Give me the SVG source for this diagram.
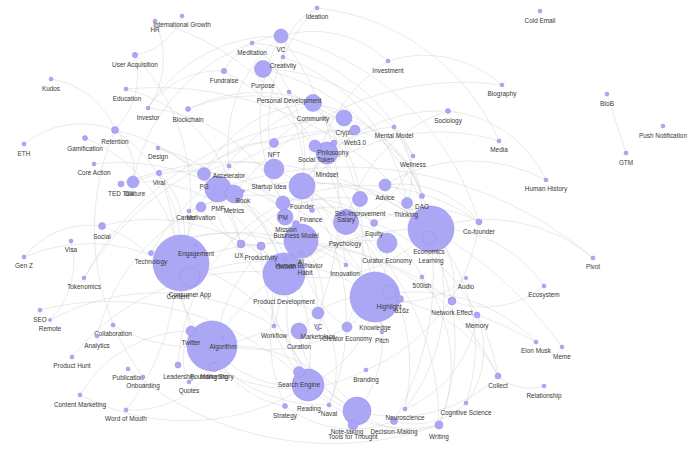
<svg xmlns="http://www.w3.org/2000/svg" width="700" height="456" viewBox="0 0 700 456">
<style>
.e{fill:none;stroke:#cfcfcf;stroke-width:0.6;stroke-opacity:0.75}
.n circle{fill:#aba7f5;stroke:#928de9;stroke-width:0.5}
text{font-family:"Liberation Sans",Arial,Helvetica,sans-serif;font-size:6.4px;fill:#383838;text-anchor:middle}
</style>
<rect width="700" height="456" fill="#ffffff"/>
<g id="connectors" class="e">
<path d="M51 79 A82 82 0 0 1 115 130"/>
<path d="M24 144 A92 92 0 0 1 115 130"/>
<path d="M85 138 A158 158 0 0 1 181 263"/>
<path d="M155 21 A87 87 0 0 1 148 108"/>
<path d="M182 16 A61 61 0 0 1 135 55"/>
<path d="M135 55 A78 78 0 0 1 115 130"/>
<path d="M135 55 A213 213 0 0 1 181 263"/>
<path d="M126 89 A336 336 0 0 1 431 229"/>
<path d="M148 108 A151 151 0 0 1 281 36"/>
<path d="M148 108 A85 85 0 0 1 224 71"/>
<path d="M115 130 A148 148 0 0 1 181 263"/>
<path d="M115 130 A55 55 0 0 1 133 182"/>
<path d="M158 148 A127 127 0 0 1 241 244"/>
<path d="M158 148 A178 178 0 0 1 284 274"/>
<path d="M94 164 A220 220 0 0 1 305 265"/>
<path d="M159 173 A92 92 0 0 1 181 263"/>
<path d="M159 173 A239 239 0 0 1 126 410"/>
<path d="M133 182 A151 151 0 0 1 283 203"/>
<path d="M121 184 A313 313 0 0 1 431 229"/>
<path d="M102 226 A138 138 0 0 1 191 331"/>
<path d="M71 241 A82 82 0 0 1 50 320"/>
<path d="M24 257 A84 84 0 0 1 102 226"/>
<path d="M24 257 A167 167 0 0 1 190 277"/>
<path d="M151 253 A150 150 0 0 1 301 253"/>
<path d="M84 278 A305 305 0 0 1 344 118"/>
<path d="M84 278 A309 309 0 0 1 355 130"/>
<path d="M40 310 A278 278 0 0 1 308 385"/>
<path d="M50 320 A224 224 0 0 1 274 326"/>
<path d="M113 325 A161 161 0 0 0 274 326"/>
<path d="M97 336 A197 197 0 0 1 234 194"/>
<path d="M72 357 A228 228 0 0 1 284 274"/>
<path d="M128 369 A316 316 0 0 0 439 425"/>
<path d="M143 377 A249 249 0 0 1 115 130"/>
<path d="M80 395 A228 228 0 0 0 308 385"/>
<path d="M80 395 A128 128 0 0 1 191 331"/>
<path d="M126 410 A98 98 0 0 0 214 367"/>
<path d="M178 365 A193 193 0 0 1 283 203"/>
<path d="M189 382 A51 51 0 0 1 191 331"/>
<path d="M212 346 A89 89 0 0 1 181 263"/>
<path d="M212 346 A104 104 0 0 0 308 385"/>
<path d="M214 367 A165 165 0 0 1 296 224"/>
<path d="M317 8 A167 167 0 0 0 274 169"/>
<path d="M317 8 A60 60 0 0 0 283 57"/>
<path d="M281 36 A67 67 0 0 0 224 71"/>
<path d="M281 36 A280 280 0 0 1 318 313"/>
<path d="M281 36 A140 140 0 0 0 229 166"/>
<path d="M281 36 A167 167 0 0 0 283 203"/>
<path d="M252 43 A197 197 0 0 1 413 156"/>
<path d="M252 43 A151 151 0 0 1 302 186"/>
<path d="M283 57 A191 191 0 0 1 407 203"/>
<path d="M263 69 A158 158 0 0 1 296 224"/>
<path d="M289 92 A129 129 0 0 1 360 199"/>
<path d="M313 103 A143 143 0 0 1 422 196"/>
<path d="M313 103 A226 226 0 0 1 347 327"/>
<path d="M313 103 A214 214 0 0 0 181 263"/>
<path d="M188 109 A156 156 0 0 1 344 118"/>
<path d="M188 109 A168 168 0 0 1 355 130"/>
<path d="M344 118 A74 74 0 0 0 274 143"/>
<path d="M344 118 A110 110 0 0 1 422 196"/>
<path d="M355 130 A92 92 0 0 1 422 196"/>
<path d="M388 61 A110 110 0 0 0 281 36"/>
<path d="M388 61 A167 167 0 0 0 312 210"/>
<path d="M502 85 A289 289 0 0 0 234 194"/>
<path d="M448 111 A151 151 0 0 0 346 222"/>
<path d="M448 111 A120 120 0 0 1 546 180"/>
<path d="M394 127 A77 77 0 0 1 407 203"/>
<path d="M394 127 A294 294 0 0 1 394 421"/>
<path d="M499 141 A202 202 0 0 0 302 186"/>
<path d="M607 94 L626 153"/>
<path d="M413 156 A94 94 0 0 1 346 222"/>
<path d="M546 180 A161 161 0 0 0 385 185"/>
<path d="M229 166 A172 172 0 0 1 318 313"/>
<path d="M204 174 A194 194 0 0 0 318 313"/>
<path d="M204 174 A70 70 0 0 1 274 169"/>
<path d="M218 189 A117 117 0 0 1 284 274"/>
<path d="M218 189 A381 381 0 0 1 593 258"/>
<path d="M234 194 A205 205 0 0 1 308 385"/>
<path d="M234 194 A200 200 0 0 1 431 229"/>
<path d="M201 207 A72 72 0 0 0 261 246"/>
<path d="M189 211 A157 157 0 0 1 346 222"/>
<path d="M274 169 A120 120 0 0 1 346 265"/>
<path d="M302 186 A136 136 0 0 1 431 229"/>
<path d="M283 203 A197 197 0 0 1 479 222"/>
<path d="M283 203 A93 93 0 0 1 374 223"/>
<path d="M285 217 A57 57 0 0 1 284 274"/>
<path d="M312 210 A63 63 0 0 1 374 223"/>
<path d="M301 241 A90 90 0 0 1 318 329"/>
<path d="M301 241 A98 98 0 0 0 347 327"/>
<path d="M301 241 A93 93 0 0 1 375 297"/>
<path d="M346 222 A85 85 0 0 1 431 229"/>
<path d="M360 199 A86 86 0 0 1 305 265"/>
<path d="M385 185 A101 101 0 0 1 479 222"/>
<path d="M407 203 A224 224 0 0 1 439 425"/>
<path d="M374 223 A105 105 0 0 1 479 222"/>
<path d="M387 243 A93 93 0 0 1 347 327"/>
<path d="M431 229 A165 165 0 0 1 593 258"/>
<path d="M431 229 A400 400 0 0 1 562 347"/>
<path d="M431 229 A127 127 0 0 1 544 286"/>
<path d="M431 229 A75 75 0 0 1 452 301"/>
<path d="M431 229 A182 182 0 0 1 405 409"/>
<path d="M241 244 A52 52 0 0 1 284 274"/>
<path d="M261 246 A81 81 0 0 1 274 326"/>
<path d="M261 246 A191 191 0 0 0 357 411"/>
<path d="M346 265 A195 195 0 0 0 151 253"/>
<path d="M422 277 A149 149 0 0 1 439 425"/>
<path d="M466 278 A93 93 0 0 1 375 297"/>
<path d="M375 297 A115 115 0 0 1 357 411"/>
<path d="M375 297 A111 111 0 0 1 308 385"/>
<path d="M375 297 A146 146 0 0 1 498 376"/>
<path d="M375 297 A167 167 0 0 1 536 342"/>
<path d="M477 315 A118 118 0 0 1 405 409"/>
<path d="M477 315 A89 89 0 0 1 466 403"/>
<path d="M544 286 A93 93 0 0 1 452 301"/>
<path d="M318 313 A93 93 0 0 1 329 405"/>
<path d="M299 331 A100 100 0 0 0 357 411"/>
<path d="M299 331 A83 83 0 0 1 375 297"/>
<path d="M347 327 A156 156 0 0 1 191 331"/>
<path d="M274 326 A120 120 0 0 0 357 411"/>
<path d="M382 332 A163 163 0 0 0 283 203"/>
<path d="M366 370 A152 152 0 0 1 214 367"/>
<path d="M498 376 A145 145 0 0 1 357 411"/>
<path d="M466 403 A74 74 0 0 1 394 421"/>
<path d="M405 409 A196 196 0 0 0 346 222"/>
<path d="M394 421 A110 110 0 0 1 285 406"/>
<path d="M357 411 A83 83 0 0 0 439 425"/>
<path d="M439 425 A137 137 0 0 1 308 385"/>
<path d="M308 385 A132 132 0 0 1 301 253"/>
<path d="M285 406 A166 166 0 0 1 301 241"/>
<path d="M329 405 A155 155 0 0 1 191 331"/>
<path d="M544 386 A47 47 0 0 1 498 376"/>
<path d="M536 342 A400 400 0 0 0 477 315"/>
<path d="M224 71 A305 305 0 0 1 382 332"/>
<path d="M263 69 A231 231 0 0 1 431 229"/>
<path d="M313 103 A130 130 0 0 0 204 174"/>
<path d="M281 36 A272 272 0 0 1 479 222"/>
<path d="M252 43 A183 183 0 0 0 133 182"/>
<path d="M317 8 A225 225 0 0 1 499 141"/>
<path d="M388 61 A116 116 0 0 1 502 85"/>
<path d="M155 21 A277 277 0 0 1 346 222"/>
<path d="M448 111 A164 164 0 0 0 302 186"/>
<path d="M394 127 A110 110 0 0 0 302 186"/>
<path d="M413 156 A173 173 0 0 0 263 69"/>
<path d="M355 130 A238 238 0 0 0 151 253"/>
<path d="M302 186 A133 133 0 0 1 375 297"/>
<path d="M181 263 A274 274 0 0 1 452 301"/>
<path d="M190 277 A186 186 0 0 1 375 297"/>
<path d="M212 346 A248 248 0 0 1 431 229"/>
<path d="M284 274 A154 154 0 0 0 431 229"/>
<path d="M284 274 A108 108 0 0 1 387 243"/>
<path d="M301 241 A239 239 0 0 1 498 376"/>
<path d="M308 385 A176 176 0 0 0 181 263"/>
<path d="M357 411 A159 159 0 0 0 212 346"/>
<path d="M241 244 A127 127 0 0 1 360 199"/>
<path d="M296 224 A85 85 0 0 0 218 189"/>
<path d="M274 143 A76 76 0 0 0 204 174"/>
<path d="M133 182 A143 143 0 0 1 261 246"/>
<path d="M102 226 A188 188 0 0 1 284 274"/>
<path d="M126 89 A151 151 0 0 1 234 194"/>
<path d="M115 130 A170 170 0 0 1 241 244"/>
<path d="M148 108 A165 165 0 0 1 283 203"/>
<path d="M274 326 A89 89 0 0 1 301 241"/>
<path d="M329 405 A221 221 0 0 0 302 186"/>
<path d="M285 406 A94 94 0 0 1 212 346"/>
<path d="M366 370 A186 186 0 0 0 479 222"/>
<path d="M422 277 A94 94 0 0 0 346 222"/>
<path d="M466 403 A177 177 0 0 0 431 229"/>
<path d="M498 376 A197 197 0 0 0 374 223"/>
<path d="M439 425 A275 275 0 0 0 302 186"/>
</g>
<g id="n-engagement-big" class="n"><circle cx="181" cy="263" r="28"/><text x="178" y="299">Content</text></g>
<g id="n-knowledge" class="n"><circle cx="375" cy="297" r="25"/><text x="375" y="330">Knowledge</text></g>
<g id="n-marketing" class="n"><circle cx="212" cy="346" r="25"/><text x="214" y="379">Marketing</text></g>
<g id="n-learning" class="n"><circle cx="431" cy="229" r="23"/><text x="431" y="263">Learning</text></g>
<g id="n-product-development" class="n"><circle cx="284" cy="274" r="21"/><text x="284" y="304">Product Development</text></g>
<g id="n-human-behavior" class="n"><circle cx="301" cy="241" r="17"/><text x="299" y="268">Human Behavior</text></g>
<g id="n-reading" class="n"><circle cx="308" cy="385" r="16"/><text x="309" y="411">Reading</text></g>
<g id="n-note-taking" class="n"><circle cx="357" cy="411" r="14"/><text x="347" y="434">Note-taking</text></g>
<g id="n-founder" class="n"><circle cx="302" cy="186" r="13"/><text x="302" y="209">Founder</text></g>
<g id="n-pmf" class="n"><circle cx="218" cy="189" r="13"/><text x="218" y="211">PMF</text></g>
<g id="n-psychology" class="n"><circle cx="346" cy="222" r="12.5"/><text x="345" y="246">Psychology</text></g>
<g id="n-mindset" class="n"><circle cx="327" cy="153" r="11"/><text x="327" y="177">Mindset</text></g>
<g id="n-curator-economy" class="n"><circle cx="387" cy="243" r="10"/><text x="387" y="263">Curator Economy</text></g>
<g id="n-consumer-app" class="n"><circle cx="190" cy="277" r="10"/><text x="190" y="297">Consumer App</text></g>
<g id="n-startup-idea" class="n"><circle cx="274" cy="169" r="10"/><text x="269" y="189">Startup Idea</text></g>
<g id="n-metrics" class="n"><circle cx="234" cy="194" r="9"/><text x="234" y="213">Metrics</text></g>
<g id="n-purpose" class="n"><circle cx="263" cy="69" r="8.5"/><text x="263" y="88">Purpose</text></g>
<g id="n-community" class="n"><circle cx="313" cy="103" r="8.5"/><text x="313" y="121">Community</text></g>
<g id="n-crypto" class="n"><circle cx="344" cy="118" r="8"/><text x="345" y="135">Crypto</text></g>
<g id="n-mission" class="n"><circle cx="285" cy="217" r="8"/><text x="286" y="232">Mission</text></g>
<g id="n-curation" class="n"><circle cx="299" cy="331" r="8"/><text x="299" y="349">Curation</text></g>
<g id="n-self-improvement" class="n"><circle cx="360" cy="199" r="7.5"/><text x="360" y="216">Self-Improvement</text></g>
<g id="n-vc" class="n"><circle cx="281" cy="36" r="7"/><text x="281" y="52">VC</text></g>
<g id="n-pm" class="n"><circle cx="283" cy="203" r="7"/><text x="283" y="220">PM</text></g>
<g id="n-highlight" class="n"><circle cx="389" cy="292" r="7"/><text x="389" y="309">Highlight</text></g>
<g id="n-economics" class="n"><circle cx="429" cy="238" r="7"/><text x="429" y="254">Economics</text></g>
<g id="n-pg" class="n"><circle cx="204" cy="174" r="6.5"/><text x="204" y="189">PG</text></g>
<g id="n-advice" class="n"><circle cx="385" cy="185" r="6"/><text x="385" y="200">Advice</text></g>
<g id="n-yc" class="n"><circle cx="318" cy="313" r="6"/><text x="318" y="329">YC</text></g>
<g id="n-social-token" class="n"><circle cx="315" cy="146" r="6"/><text x="316" y="162">Social Token</text></g>
<g id="n-culture" class="n"><circle cx="133" cy="182" r="6"/><text x="135" y="196">Culture</text></g>
<g id="n-thinking" class="n"><circle cx="407" cy="203" r="5.5"/><text x="406" y="217">Thinking</text></g>
<g id="n-search-engine" class="n"><circle cx="299" cy="372" r="5.5"/><text x="299" y="387">Search Engine</text></g>
<g id="n-web3" class="n"><circle cx="355" cy="130" r="5"/><text x="355" y="145">Web3.0</text></g>
<g id="n-twitter" class="n"><circle cx="191" cy="331" r="5"/><text x="191" y="345">Twitter</text></g>
<g id="n-motivation" class="n"><circle cx="201" cy="207" r="5"/><text x="201" y="220">Motivation</text></g>
<g id="n-creator-economy" class="n"><circle cx="347" cy="327" r="5"/><text x="347" y="341">Creator Economy</text></g>
<g id="n-tools-for-thought" class="n"><circle cx="353" cy="425" r="5"/><text x="353" y="439">Tools for Thought</text></g>
<g id="n-nft" class="n"><circle cx="274" cy="143" r="4.5"/><text x="274" y="157">NFT</text></g>
<g id="n-founding-story" class="n"><circle cx="214" cy="367" r="4.5"/><text x="212" y="379">Founding Story</text></g>
<g id="n-ux" class="n"><circle cx="241" cy="244" r="4"/><text x="239" y="258">UX</text></g>
<g id="n-productivity" class="n"><circle cx="261" cy="246" r="4"/><text x="261" y="260">Productivity</text></g>
<g id="n-network-effect" class="n"><circle cx="452" cy="301" r="4"/><text x="452" y="315">Network Effect</text></g>
<g id="n-writing" class="n"><circle cx="439" cy="425" r="4"/><text x="439" y="439">Writing</text></g>
<g id="n-social" class="n"><circle cx="102" cy="226" r="3.5"/><text x="102" y="239">Social</text></g>
<g id="n-retention" class="n"><circle cx="115" cy="130" r="3.5"/><text x="115" y="144">Retention</text></g>
<g id="n-business-model" class="n"><circle cx="296" cy="224" r="3.5"/><text x="296" y="238">Business Model</text></g>
<g id="n-equity" class="n"><circle cx="374" cy="223" r="3.5"/><text x="374" y="236">Equity</text></g>
<g id="n-a16z" class="n"><circle cx="400" cy="299" r="3.5"/><text x="402" y="313">a16z</text></g>
<g id="n-decision-making" class="n"><circle cx="394" cy="421" r="3.5"/><text x="394" y="434">Decision-Making</text></g>
<g id="n-philosophy" class="n"><circle cx="334" cy="143" r="3"/><text x="333" y="155">Philosophy</text></g>
<g id="n-ted-talk" class="n"><circle cx="121" cy="184" r="3"/><text x="121" y="196">TED Talk</text></g>
<g id="n-leadership" class="n"><circle cx="178" cy="365" r="3"/><text x="179" y="379">Leadership</text></g>
<g id="n-co-founder" class="n"><circle cx="479" cy="222" r="3"/><text x="479" y="234">Co-founder</text></g>
<g id="n-memory" class="n"><circle cx="477" cy="315" r="3"/><text x="477" y="328">Memory</text></g>
<g id="n-collect" class="n"><circle cx="498" cy="376" r="3"/><text x="498" y="388">Collect</text></g>
<g id="n-user-acquisition" class="n"><circle cx="135" cy="55" r="2.7"/><text x="135" y="67">User Acquisition</text></g>
<g id="n-fundraise" class="n"><circle cx="224" cy="71" r="2.7"/><text x="224" y="83">Fundraise</text></g>
<g id="n-viral" class="n"><circle cx="159" cy="173" r="2.7"/><text x="159" y="185">Viral</text></g>
<g id="n-gamification" class="n"><circle cx="85" cy="138" r="2.5"/><text x="85" y="151">Gamification</text></g>
<g id="n-blockchain" class="n"><circle cx="188" cy="109" r="2.5"/><text x="188" y="122">Blockchain</text></g>
<g id="n-sociology" class="n"><circle cx="448" cy="111" r="2.5"/><text x="448" y="123">Sociology</text></g>
<g id="n-technology" class="n"><circle cx="151" cy="253" r="2.5"/><text x="151" y="264">Technology</text></g>
<g id="n-dao" class="n"><circle cx="422" cy="196" r="2.5"/><text x="422" y="209">DAO</text></g>
<g id="n-finance" class="n"><circle cx="312" cy="210" r="2.5"/><text x="311" y="222">Finance</text></g>
<g id="n-strategy" class="n"><circle cx="285" cy="406" r="2.5"/><text x="285" y="418">Strategy</text></g>
<g id="n-hr" class="n"><circle cx="155" cy="21" r="2"/><text x="155" y="32">HR</text></g>
<g id="n-international-growth" class="n"><circle cx="182" cy="16" r="2"/><text x="182" y="27">International Growth</text></g>
<g id="n-kudos" class="n"><circle cx="51" cy="79" r="2"/><text x="51" y="91">Kudos</text></g>
<g id="n-education" class="n"><circle cx="126" cy="89" r="2"/><text x="127" y="101">Education</text></g>
<g id="n-investor" class="n"><circle cx="148" cy="108" r="2"/><text x="148" y="120">Investor</text></g>
<g id="n-eth" class="n"><circle cx="24" cy="144" r="2"/><text x="24" y="156">ETH</text></g>
<g id="n-design" class="n"><circle cx="158" cy="148" r="2"/><text x="158" y="159">Design</text></g>
<g id="n-core-action" class="n"><circle cx="94" cy="164" r="2"/><text x="94" y="175">Core Action</text></g>
<g id="n-visa" class="n"><circle cx="71" cy="241" r="2"/><text x="71" y="252">Visa</text></g>
<g id="n-gen-z" class="n"><circle cx="24" cy="257" r="2"/><text x="24" y="268">Gen Z</text></g>
<g id="n-tokenomics" class="n"><circle cx="84" cy="278" r="2"/><text x="84" y="289">Tokenomics</text></g>
<g id="n-seo" class="n"><circle cx="40" cy="310" r="2"/><text x="40" y="322">SEO</text></g>
<g id="n-remote" class="n"><circle cx="50" cy="320" r="1.6"/><text x="50" y="331">Remote</text></g>
<g id="n-collaboration" class="n"><circle cx="113" cy="325" r="2"/><text x="113" y="336">Collaboration</text></g>
<g id="n-analytics" class="n"><circle cx="97" cy="336" r="2"/><text x="97" y="348">Analytics</text></g>
<g id="n-product-hunt" class="n"><circle cx="72" cy="357" r="2"/><text x="72" y="368">Product Hunt</text></g>
<g id="n-publication" class="n"><circle cx="128" cy="369" r="2"/><text x="128" y="380">Publication</text></g>
<g id="n-onboarding" class="n"><circle cx="143" cy="377" r="2"/><text x="143" y="388">Onboarding</text></g>
<g id="n-content-marketing" class="n"><circle cx="80" cy="395" r="2"/><text x="80" y="407">Content Marketing</text></g>
<g id="n-word-of-mouth" class="n"><circle cx="126" cy="410" r="2"/><text x="126" y="421">Word of Mouth</text></g>
<g id="n-quotes" class="n"><circle cx="189" cy="382" r="2"/><text x="189" y="393">Quotes</text></g>
<g id="n-algorithm" class="n"><circle cx="223" cy="338" r="1.5"/><text x="223" y="349">Algorithm</text></g>
<g id="n-engagement" class="n"><circle cx="196" cy="245" r="1.5"/><text x="196" y="256">Engagement</text></g>
<g id="n-ideation" class="n"><circle cx="317" cy="8" r="2"/><text x="317" y="19">Ideation</text></g>
<g id="n-meditation" class="n"><circle cx="252" cy="43" r="2"/><text x="252" y="55">Meditation</text></g>
<g id="n-creativity" class="n"><circle cx="283" cy="57" r="2"/><text x="283" y="68">Creativity</text></g>
<g id="n-personal-development" class="n"><circle cx="289" cy="92" r="2"/><text x="289" y="103">Personal Development</text></g>
<g id="n-investment" class="n"><circle cx="388" cy="61" r="2"/><text x="388" y="73">Investment</text></g>
<g id="n-biography" class="n"><circle cx="502" cy="85" r="2"/><text x="502" y="96">Biography</text></g>
<g id="n-mental-model" class="n"><circle cx="394" cy="127" r="2"/><text x="394" y="138">Mental Model</text></g>
<g id="n-media" class="n"><circle cx="499" cy="141" r="2"/><text x="499" y="152">Media</text></g>
<g id="n-cold-email" class="n"><circle cx="540" cy="11" r="2"/><text x="540" y="23">Cold Email</text></g>
<g id="n-btob" class="n"><circle cx="607" cy="94" r="2"/><text x="607" y="106">BtoB</text></g>
<g id="n-push-notification" class="n"><circle cx="663" cy="126" r="2"/><text x="663" y="138">Push Notification</text></g>
<g id="n-gtm" class="n"><circle cx="626" cy="153" r="2"/><text x="626" y="165">GTM</text></g>
<g id="n-wellness" class="n"><circle cx="413" cy="156" r="2"/><text x="413" y="167">Wellness</text></g>
<g id="n-human-history" class="n"><circle cx="546" cy="180" r="2"/><text x="546" y="191">Human History</text></g>
<g id="n-accelerator" class="n"><circle cx="229" cy="166" r="2"/><text x="229" y="178">Accelerator</text></g>
<g id="n-book" class="n"><circle cx="243" cy="191" r="1.5"/><text x="243" y="203">Book</text></g>
<g id="n-career" class="n"><circle cx="189" cy="211" r="2"/><text x="186" y="220">Career</text></g>
<g id="n-salary" class="n"><circle cx="346" cy="211" r="1.5"/><text x="346" y="222">Salary</text></g>
<g id="n-ai" class="n"><circle cx="301" cy="253" r="1.5"/><text x="301" y="264">AI</text></g>
<g id="n-growth" class="n"><circle cx="285" cy="259" r="1.5"/><text x="286" y="269">Growth</text></g>
<g id="n-habit" class="n"><circle cx="305" cy="265" r="1.5"/><text x="305" y="275">Habit</text></g>
<g id="n-innovation" class="n"><circle cx="346" cy="265" r="2"/><text x="345" y="276">Innovation</text></g>
<g id="n-500ish" class="n"><circle cx="422" cy="277" r="2"/><text x="422" y="288">500ish</text></g>
<g id="n-audio" class="n"><circle cx="466" cy="278" r="1.8"/><text x="466" y="289">Audio</text></g>
<g id="n-ecosystem" class="n"><circle cx="544" cy="286" r="2"/><text x="544" y="297">Ecosystem</text></g>
<g id="n-pivot" class="n"><circle cx="593" cy="258" r="2"/><text x="593" y="269">Pivot</text></g>
<g id="n-marketplace" class="n"><circle cx="318" cy="329" r="1.5"/><text x="318" y="339">Marketplace</text></g>
<g id="n-workflow" class="n"><circle cx="274" cy="326" r="2"/><text x="274" y="338">Workflow</text></g>
<g id="n-pitch" class="n"><circle cx="382" cy="332" r="2"/><text x="382" y="343">Pitch</text></g>
<g id="n-branding" class="n"><circle cx="366" cy="370" r="2"/><text x="366" y="382">Branding</text></g>
<g id="n-naval" class="n"><circle cx="329" cy="405" r="2"/><text x="329" y="416">Naval</text></g>
<g id="n-neuroscience" class="n"><circle cx="405" cy="409" r="2"/><text x="405" y="420">Neuroscience</text></g>
<g id="n-cognitive-science" class="n"><circle cx="466" cy="403" r="2"/><text x="466" y="415">Cognitive Science</text></g>
<g id="n-elon-musk" class="n"><circle cx="536" cy="342" r="2"/><text x="536" y="353">Elon Musk</text></g>
<g id="n-meme" class="n"><circle cx="562" cy="347" r="2"/><text x="562" y="359">Meme</text></g>
<g id="n-relationship" class="n"><circle cx="544" cy="386" r="2"/><text x="544" y="398">Relationship</text></g>
</svg>
